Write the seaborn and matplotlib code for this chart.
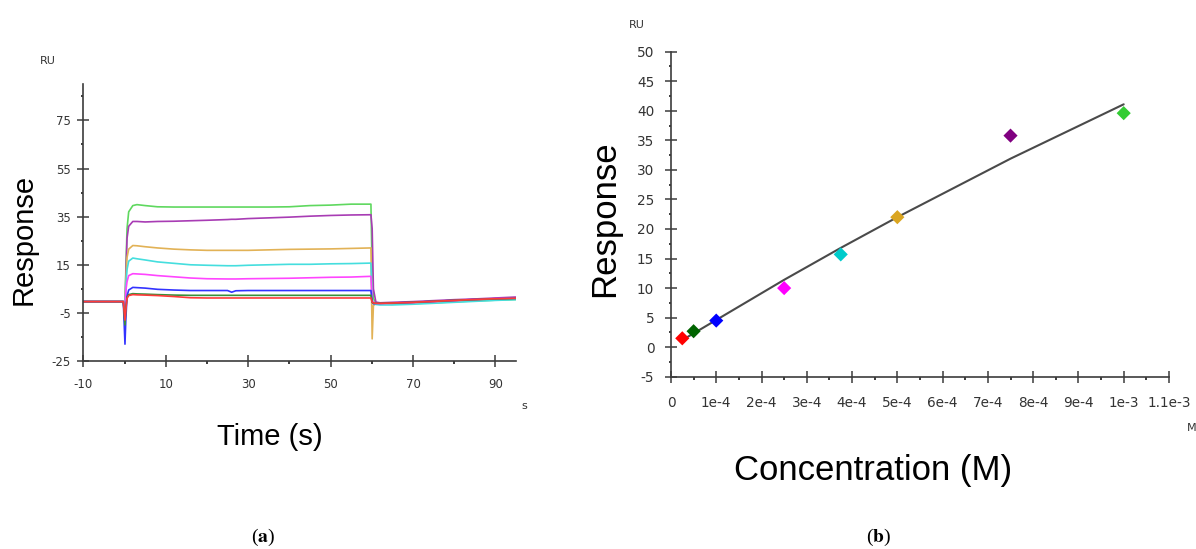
import numpy as np
import pandas as pd
import matplotlib
matplotlib.use("Agg")
import matplotlib.pyplot as plt
from matplotlib.ticker import FixedLocator, MultipleLocator
import seaborn as sns

# ---- Sensorgram data (response in RU over time in s) ----
time_s = [-10, -5, -0.3, 0.1, 0.3, 0.6, 1.0, 2, 3, 5, 8, 12, 16, 20, 25, 26, 27, 30, 35,
          40, 45, 50, 55, 59.8, 60.1, 60.4, 61, 62, 65, 70, 75, 80, 85, 90, 95]

resp_green = [-0.3, -0.3, -0.3, -2, 12, 30, 37, 39.6, 40.0, 39.6, 39.1, 39.0, 39.0, 39.0, 39.0,
              39.0, 39.0, 39.0, 39.0, 39.1, 39.6, 39.8, 40.2, 40.2, 12, 1.0, -0.8, -1.3, -1.3,
              -1.1, -0.8, -0.4, 0.0, 0.3, 0.6]
resp_purple = [-0.3, -0.3, -0.3, -9, 10, 26, 31, 33.0, 33.0, 32.8, 33.0, 33.1, 33.3, 33.5, 33.8,
               33.9, 33.9, 34.2, 34.5, 34.8, 35.2, 35.5, 35.7, 35.8, 30, 5, -0.5, -0.8, -0.6,
               -0.3, 0.1, 0.5, 0.8, 1.2, 1.6]
resp_orange = [-0.3, -0.3, -0.3, -5, 8, 18, 21.5, 23.0, 22.9, 22.5, 22.0, 21.5, 21.2, 21.0, 21.0,
               21.0, 21.0, 21.0, 21.2, 21.4, 21.5, 21.6, 21.8, 22.0, -15.8, -2, -1.0, -1.2, -1.4,
               -1.0, -0.6, -0.2, 0.2, 0.5, 0.9]
resp_cyan = [-0.3, -0.3, -0.3, -6, 6, 13, 16.5, 17.8, 17.5, 17.0, 16.2, 15.6, 15.0, 14.8, 14.6,
             14.6, 14.6, 14.8, 15.0, 15.2, 15.2, 15.4, 15.5, 15.7, 1.0, -1.0, -1.5, -1.7, -1.7,
             -1.4, -1.0, -0.6, -0.2, 0.2, 0.5]
resp_magenta = [-0.3, -0.3, -0.3, -6, 4, 8, 10.5, 11.3, 11.2, 11.0, 10.5, 10.0, 9.5, 9.2, 9.1,
                9.1, 9.1, 9.2, 9.3, 9.4, 9.6, 9.8, 9.9, 10.2, 0.5, -0.8, -1.0, -1.1, -1.0,
                -0.7, -0.3, 0.1, 0.5, 0.9, 1.3]
resp_blue = [-0.3, -0.3, -0.3, -18, -8, 2, 4.5, 5.6, 5.5, 5.3, 4.8, 4.5, 4.3, 4.3, 4.3,
             3.6, 4.2, 4.3, 4.3, 4.3, 4.3, 4.3, 4.3, 4.3, -0.5, -1.2, -1.0, -1.0, -0.9,
             -0.6, -0.2, 0.2, 0.6, 0.9, 1.1]
resp_darkgreen = [-0.3, -0.3, -0.3, -10, -3, 1.5, 2.6, 3.0, 2.9, 2.8, 2.6, 2.4, 2.3, 2.3, 2.3,
                  2.3, 2.3, 2.3, 2.3, 2.3, 2.3, 2.3, 2.3, 2.3, -0.5, -1.0, -1.0, -1.0, -0.9,
                  -0.6, -0.2, 0.2, 0.5, 0.8, 1.0]
resp_red = [-0.3, -0.3, -0.3, -8, -4, 1.0, 2.2, 2.6, 2.5, 2.4, 2.2, 1.8, 1.3, 1.2, 1.2,
            1.2, 1.2, 1.2, 1.2, 1.2, 1.2, 1.2, 1.2, 1.2, -0.5, -0.9, -1.0, -1.0, -0.9,
            -0.6, -0.2, 0.2, 0.6, 0.9, 1.1]

curve_names = ["1000 µM", "750 µM", "500 µM", "375 µM", "250 µM", "100 µM", "50 µM", "25 µM"]
curve_colors = ["#5fd85f", "#a83cb4", "#e2b256", "#45dede", "#ff45ff", "#3333ff", "#3a8f3a", "#ff3a3a"]
curve_values = [resp_green, resp_purple, resp_orange, resp_cyan, resp_magenta,
                resp_blue, resp_darkgreen, resp_red]

time_ticks = [-10, 10, 30, 50, 70, 90]
ru_ticks_a = [-25, -5, 15, 35, 55, 75]

# ---- Steady-state affinity data ----
conc_M = [2.5e-5, 5e-5, 1e-4, 2.5e-4, 3.75e-4, 5e-4, 7.5e-4, 1e-3]
resp_RU = [1.5, 2.7, 4.5, 10.0, 15.7, 22.0, 35.8, 39.6]
point_colors = ["#ff0000", "#006400", "#0000ff", "#ff00ff", "#00cccc", "#daa520", "#800080", "#33cc33"]

fit_conc = [2.5e-5, 1e-4, 2.5e-4, 3.75e-4, 5e-4, 7.5e-4, 1e-3]
fit_resp = [1.2, 4.6, 11.4, 16.8, 22.0, 31.9, 41.1]

conc_ticks = [0, 1e-4, 2e-4, 3e-4, 4e-4, 5e-4, 6e-4, 7e-4, 8e-4, 9e-4, 1e-3, 1.1e-3]
conc_labels = ["0", "1e-4", "2e-4", "3e-4", "4e-4", "5e-4", "6e-4", "7e-4", "8e-4", "9e-4",
               "1e-3", "1.1e-3"]
ru_ticks_b = [-5, 0, 5, 10, 15, 20, 25, 30, 35, 40, 45, 50]

# ---- Styling ----
sns.set_theme(style="ticks")
plt.rcParams["font.family"] = ["DejaVu Sans"]
plt.rcParams["mathtext.fontset"] = "stix"
plt.rcParams["axes.unicode_minus"] = False

AX_COLOR = "#3c3c3c"
TXT_COLOR = "#333333"

fig = plt.figure(figsize=(11.96, 5.49), dpi=100)
ax_a = fig.add_axes([0.0697, 0.3424, 0.3617, 0.5040])
ax_b = fig.add_axes([0.5610, 0.3138, 0.4164, 0.5920])


def style_axes(ax, tick_size, xpad, ypad):
    for side in ("top", "right"):
        ax.spines[side].set_visible(False)
    for side in ("left", "bottom"):
        ax.spines[side].set_color(AX_COLOR)
        ax.spines[side].set_linewidth(1.2)
    ax.tick_params(which="major", direction="inout", length=8, width=1.1, color=AX_COLOR,
                   labelsize=tick_size, labelcolor=TXT_COLOR)
    ax.tick_params(axis="x", which="major", pad=xpad)
    ax.tick_params(axis="y", which="major", pad=ypad)
    ax.tick_params(which="minor", direction="out", length=1.8, width=1.4, color=AX_COLOR)
    ax.set_facecolor("white")


# ---- Panel (a): sensorgram ----
frames = []
for name, vals in zip(curve_names, curve_values):
    frames.append(pd.DataFrame({"Time": time_s, "Response": vals, "Sample": name}))
sensor_df = pd.concat(frames, ignore_index=True)

sns.lineplot(data=sensor_df, x="Time", y="Response", hue="Sample", hue_order=curve_names,
             palette=curve_colors, estimator=None, sort=False, linewidth=1.2,
             legend=False, ax=ax_a)

ax_a.set_xlim(-10, 95)
ax_a.set_ylim(-25, 90)
ax_a.xaxis.set_major_locator(FixedLocator(time_ticks))
ax_a.xaxis.set_minor_locator(FixedLocator([0, 20, 40, 60, 80]))
ax_a.yaxis.set_major_locator(FixedLocator(ru_ticks_a))
ax_a.yaxis.set_minor_locator(FixedLocator([-15, 5, 25, 45, 65, 85]))
style_axes(ax_a, 8.5, 8.5, 5)
ax_a.set_xlabel("Time (s)", fontsize=21, family="Liberation Sans", color="black", va="center")
ax_a.set_ylabel("Response", fontsize=21, family="Liberation Sans", color="black", va="center")
ax_a.xaxis.set_label_coords(0.4315, -0.2747)
ax_a.yaxis.set_label_coords(-0.139, 0.441)
fig.text(48 / 1196, 1 - 61 / 549, "RU", fontsize=8, color=TXT_COLOR, ha="center", va="center")
fig.text(524 / 1196, 1 - 406 / 549, "s", fontsize=8, color=TXT_COLOR, ha="center", va="center")

# ---- Panel (b): steady-state affinity ----
affinity_df = pd.DataFrame({"Concentration": conc_M, "Response": resp_RU,
                            "Sample": curve_names[::-1]})
fit_df = pd.DataFrame({"Concentration": fit_conc, "Response": fit_resp})

sns.lineplot(data=fit_df, x="Concentration", y="Response", color="#4a4a4a", linewidth=1.5,
             estimator=None, sort=False, ax=ax_b)
sns.scatterplot(data=affinity_df, x="Concentration", y="Response", hue="Sample",
                hue_order=curve_names[::-1], palette=point_colors, marker="D", s=52,
                linewidth=0, legend=False, ax=ax_b, zorder=3)

ax_b.set_xlim(0, 1.1e-3)
ax_b.set_ylim(-5, 50)
ax_b.xaxis.set_major_locator(FixedLocator(conc_ticks))
ax_b.set_xticklabels(conc_labels)
ax_b.xaxis.set_minor_locator(MultipleLocator(5e-5))
ax_b.yaxis.set_major_locator(FixedLocator(ru_ticks_b))
ax_b.yaxis.set_minor_locator(MultipleLocator(2.5))
style_axes(ax_b, 9.8, 10, 8)
ax_b.set_xlabel("Concentration (M)", fontsize=25, family="Liberation Sans", color="black",
                va="center")
ax_b.set_ylabel("Response", fontsize=25, family="Liberation Sans", color="black", va="center")
ax_b.xaxis.set_label_coords(0.4056, -0.287)
ax_b.yaxis.set_label_coords(-0.1325, 0.485)
fig.text(637 / 1196, 1 - 25 / 549, "RU", fontsize=8, color=TXT_COLOR, ha="center", va="center")
fig.text(1192 / 1196, 1 - 428 / 549, "M", fontsize=8, color=TXT_COLOR, ha="center", va="center")

# ---- Panel letters ----
fig.text(263 / 1196, 1 - 537 / 549, r"($\mathbf{a}$)", fontsize=14, family="Liberation Serif",
         ha="center", va="center", color="black")
fig.text(879 / 1196, 1 - 537 / 549, r"($\mathbf{b}$)", fontsize=14, family="Liberation Serif",
         ha="center", va="center", color="black")

fig.savefig("out.png", dpi=100, facecolor="white")
